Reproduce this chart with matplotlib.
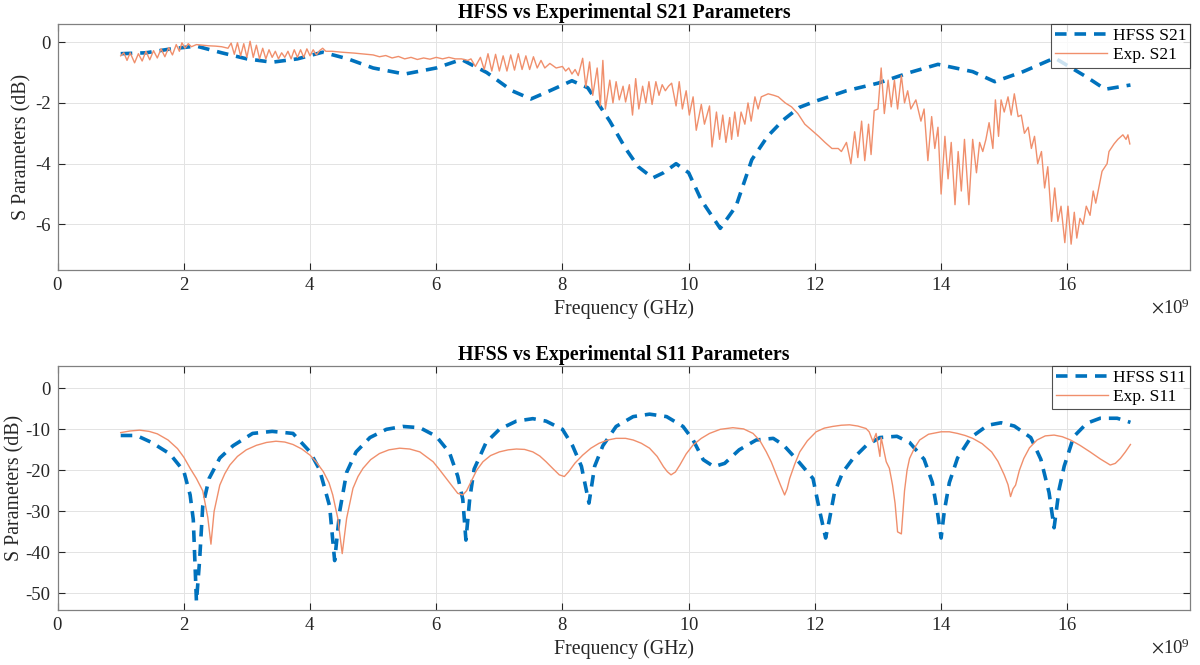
import numpy as np
import matplotlib
matplotlib.use("Agg")
import matplotlib.pyplot as plt
from matplotlib.ticker import ScalarFormatter


# HFSS S21 (GHz, dB)
hfss_s21_f = [1.0, 1.4, 1.8, 2.2, 2.6, 3.0, 3.4, 3.8, 4.2, 4.6, 5.0, 5.5, 6.0,
              6.4, 6.8, 7.2, 7.5, 7.8, 8.15, 8.4, 8.75, 9.0, 9.2, 9.43, 9.6,
              9.8, 10.0, 10.2, 10.5, 10.75, 11.0, 11.25, 11.5, 11.75, 12.0,
              12.5, 13.0, 13.5, 13.95, 14.5, 14.85, 15.3, 15.8, 16.3, 16.6, 17.0]
hfss_s21_db = [-0.38, -0.35, -0.22, -0.13, -0.35, -0.55, -0.66, -0.55, -0.33,
               -0.55, -0.85, -1.05, -0.85, -0.57, -1.0, -1.6, -1.87, -1.6,
               -1.27, -1.5, -2.6, -3.5, -4.1, -4.47, -4.3, -4.0, -4.3, -5.2,
               -6.13, -5.4, -3.87, -3.1, -2.56, -2.15, -1.95, -1.6, -1.35,
               -1.0, -0.73, -0.97, -1.3, -0.97, -0.52, -1.14, -1.55, -1.41]

# Experimental S21, (GHz, dB) pairs
exp_s21 = [
    (1.00, -0.45), (1.05, -0.35), (1.10, -0.60), (1.15, -0.35), (1.22, -0.68),
    (1.28, -0.38), (1.34, -0.62), (1.40, -0.30), (1.46, -0.58), (1.52, -0.28),
    (1.58, -0.52), (1.64, -0.22), (1.70, -0.48), (1.76, -0.18), (1.82, -0.42),
    (1.88, -0.08), (1.93, -0.30), (1.97, -0.02), (2.02, -0.20), (2.07, -0.05),
    (2.12, -0.15), (2.20, -0.08), (2.30, -0.10), (2.40, -0.12), (2.50, -0.13),
    (2.60, -0.15), (2.70, -0.20),
    (2.75, -0.03), (2.80, -0.40), (2.85, -0.02), (2.90, -0.45), (2.95, -0.05),
    (3.00, -0.50), (3.05, 0.03), (3.10, -0.50), (3.15, -0.10), (3.20, -0.55),
    (3.25, -0.20), (3.30, -0.55), (3.35, -0.25), (3.40, -0.50), (3.45, -0.30),
    (3.50, -0.55), (3.55, -0.35), (3.60, -0.50), (3.65, -0.30), (3.70, -0.55),
    (3.75, -0.25), (3.80, -0.50), (3.85, -0.25), (3.90, -0.50), (3.95, -0.22),
    (4.00, -0.45), (4.05, -0.25), (4.10, -0.42), (4.15, -0.28), (4.20, -0.20),
    (4.25, -0.30), (4.35, -0.30), (4.50, -0.33), (4.70, -0.36), (4.90, -0.40),
    (5.00, -0.42), (5.10, -0.48), (5.20, -0.44), (5.30, -0.52), (5.40, -0.47),
    (5.50, -0.55), (5.60, -0.50), (5.70, -0.57), (5.80, -0.52), (5.90, -0.56),
    (6.00, -0.50), (6.10, -0.55), (6.20, -0.50), (6.30, -0.55), (6.40, -0.55),
    (6.50, -0.60),
    (6.55, -0.55), (6.62, -0.80), (6.70, -0.50), (6.76, -0.90), (6.82, -0.38),
    (6.88, -0.95), (6.94, -0.40), (7.00, -0.95), (7.06, -0.45), (7.12, -0.95),
    (7.18, -0.42), (7.24, -0.92), (7.30, -0.38), (7.36, -0.90), (7.42, -0.45),
    (7.48, -0.90), (7.54, -0.48), (7.60, -0.85), (7.66, -0.60), (7.72, -0.85),
    (7.80, -0.70), (7.90, -0.85), (8.00, -0.80), (8.05, -0.95), (8.10, -0.85),
    (8.15, -1.05), (8.20, -0.90), (8.25, -1.10),
    (8.32, -0.53), (8.37, -1.47), (8.43, -0.65), (8.48, -1.75), (8.55, -0.85),
    (8.60, -2.10), (8.64, -0.60), (8.68, -2.20), (8.75, -1.25), (8.80, -2.00),
    (8.85, -1.30), (8.90, -1.90), (8.96, -1.45), (9.00, -1.97), (9.06, -1.40),
    (9.11, -2.40), (9.16, -1.20), (9.21, -2.20), (9.27, -1.45), (9.32, -2.00),
    (9.37, -1.30), (9.42, -2.05), (9.48, -1.30), (9.53, -1.75), (9.58, -1.40),
    (9.63, -1.60), (9.68, -1.45), (9.73, -1.35), (9.80, -2.10), (9.85, -1.30),
    (9.90, -2.20), (9.96, -1.60), (10.01, -2.40), (10.07, -1.80),
    (10.12, -2.90), (10.20, -2.05), (10.25, -2.70), (10.33, -2.10),
    (10.37, -3.45), (10.44, -2.30), (10.49, -3.20), (10.54, -2.40),
    (10.59, -3.30), (10.65, -2.48), (10.68, -3.20), (10.73, -2.30),
    (10.78, -3.10), (10.83, -2.30), (10.89, -2.70), (10.94, -2.00),
    (10.99, -2.60), (11.05, -1.80), (11.10, -2.20), (11.15, -1.80),
    (11.26, -1.70), (11.35, -1.75), (11.42, -1.80), (11.53, -2.00),
    (11.63, -2.13), (11.73, -2.35), (11.84, -2.70), (11.95, -2.90),
    (12.06, -3.10), (12.16, -3.30), (12.27, -3.50), (12.37, -3.50),
    (12.42, -3.60), (12.50, -3.30), (12.57, -4.00), (12.63, -2.95),
    (12.68, -3.80), (12.74, -2.60), (12.79, -3.90), (12.85, -2.70),
    (12.89, -3.70), (12.94, -2.25), (13.00, -2.20), (13.05, -0.85),
    (13.10, -2.35), (13.16, -1.25), (13.21, -2.13), (13.26, -1.25),
    (13.31, -2.20), (13.37, -1.10), (13.42, -2.00), (13.47, -1.60),
    (13.52, -2.20), (13.60, -1.90), (13.68, -2.60), (13.73, -2.20),
    (13.79, -3.90), (13.85, -2.45), (13.90, -3.50), (13.95, -2.80),
    (14.00, -5.00), (14.06, -3.10), (14.11, -4.50), (14.16, -3.30),
    (14.22, -5.35), (14.27, -3.60), (14.32, -4.90), (14.37, -3.20),
    (14.44, -5.35), (14.50, -3.20), (14.56, -4.30), (14.61, -3.30),
    (14.66, -3.60), (14.71, -3.20), (14.76, -2.65), (14.82, -3.50),
    (14.86, -1.90), (14.91, -3.10), (14.95, -1.90), (15.00, -2.30),
    (15.06, -1.80), (15.11, -2.40), (15.16, -1.70), (15.22, -2.45),
    (15.27, -2.40), (15.32, -3.00), (15.38, -2.80), (15.43, -3.50),
    (15.48, -3.10), (15.53, -4.00), (15.59, -3.60), (15.64, -4.80),
    (15.69, -4.10), (15.75, -5.90), (15.80, -4.80), (15.85, -5.90),
    (15.90, -5.40), (15.96, -6.60), (16.01, -5.40), (16.06, -6.65),
    (16.11, -5.60), (16.15, -6.45), (16.20, -5.80), (16.25, -6.00),
    (16.30, -5.40), (16.36, -5.70), (16.41, -4.90), (16.45, -5.30),
    (16.55, -4.25), (16.63, -4.00), (16.66, -3.60), (16.74, -3.35),
    (16.80, -3.20), (16.88, -3.05), (16.93, -3.20), (16.96, -3.05),
    (16.99, -3.35),
]

# HFSS S11 (GHz, dB)
hfss_s11_f = [1.0, 1.25, 1.49, 1.78, 2.0, 2.1, 2.15, 2.2, 2.25, 2.3, 2.4, 2.57,
              2.78, 3.09, 3.4, 3.73, 4.0, 4.15, 4.31, 4.39, 4.47, 4.58, 4.73,
              4.95, 5.21, 5.47, 5.74, 6.0, 6.21, 6.34, 6.42, 6.47, 6.53, 6.6,
              6.79, 7.0, 7.27, 7.53, 7.74, 8.0, 8.16, 8.3, 8.42, 8.51, 8.64,
              8.85, 9.12, 9.38, 9.65, 9.91, 10.07, 10.23, 10.4, 10.57, 10.8,
              11.07, 11.34, 11.5, 11.72, 11.97, 12.07, 12.17, 12.23, 12.31,
              12.44, 12.6, 12.81, 13.03, 13.3, 13.5, 13.73, 13.86, 13.94, 14.0,
              14.05, 14.13, 14.26, 14.47, 14.74, 14.95, 15.16, 15.42, 15.58,
              15.71, 15.79, 15.87, 15.95, 16.1, 16.31, 16.52, 16.79, 17.0]
hfss_s11_db = [-11.5, -11.5, -13.2, -16.0, -20.2, -26.0, -32.0, -52.0, -42.0,
               -28.7, -22.0, -17.0, -14.0, -11.0, -10.5, -11.0, -15.5, -19.8,
               -28.7, -42.0, -30.0, -20.5, -15.5, -12.0, -10.0, -9.3, -9.6,
               -11.7, -15.7, -21.4, -27.0, -37.0, -27.0, -19.7, -13.2, -10.0,
               -8.0, -7.4, -8.0, -10.0, -14.0, -19.0, -28.0, -19.0, -14.0,
               -9.3, -6.9, -6.3, -6.9, -9.3, -12.6, -17.4, -19.1, -18.3, -15.0,
               -12.6, -12.2, -13.8, -17.5, -22.0, -29.5, -36.5, -32.0, -25.4,
               -20.5, -17.2, -14.0, -12.0, -11.7, -13.2, -17.3, -22.9, -30.0,
               -36.5, -30.0, -23.0, -17.0, -12.0, -9.0, -8.4, -9.2, -12.0,
               -17.3, -25.4, -34.0, -24.6, -19.0, -11.8, -8.5, -7.3, -7.3, -8.3]

# Experimental S11 (GHz, dB)
exp_s11_f = [1.0, 1.15, 1.3, 1.45, 1.58, 1.75, 1.9, 2.0, 2.1, 2.2, 2.3, 2.38,
             2.43, 2.48, 2.57, 2.65, 2.73, 2.85, 2.99, 3.15, 3.31, 3.46, 3.6,
             3.73, 3.87, 4.0, 4.1, 4.21, 4.3, 4.36, 4.44, 4.51, 4.58, 4.68,
             4.76, 4.84, 4.96, 5.1, 5.25, 5.42, 5.58, 5.74, 5.95, 6.05, 6.16,
             6.26, 6.34, 6.42, 6.48, 6.55, 6.64, 6.74, 6.86, 7.0, 7.14, 7.27,
             7.4, 7.53, 7.64, 7.74, 7.85, 7.95, 8.03, 8.1, 8.2, 8.32, 8.45,
             8.58, 8.72, 8.85, 9.0, 9.12, 9.25, 9.38, 9.5, 9.6, 9.66, 9.72,
             9.79, 9.86, 9.96, 10.07, 10.2, 10.33, 10.5, 10.7, 10.87, 11.02,
             11.13, 11.23, 11.31, 11.39, 11.46, 11.52, 11.56, 11.6, 11.68,
             11.76, 11.88, 12.02, 12.15, 12.28, 12.42, 12.55, 12.68, 12.81,
             12.86, 12.92, 12.97, 13.03, 13.05, 13.13, 13.18, 13.23, 13.27,
             13.31, 13.37, 13.42, 13.46, 13.5, 13.58, 13.66, 13.8, 14.0, 14.13,
             14.26, 14.38, 14.5, 14.65, 14.8, 14.9, 15.0, 15.06, 15.1, 15.14,
             15.18, 15.24, 15.31, 15.4, 15.52, 15.65, 15.79, 15.92, 16.05,
             16.2, 16.36, 16.52, 16.68, 16.76, 16.84, 16.92, 17.0]
exp_s11_db = [-10.8, -10.4, -10.2, -10.5, -11.1, -12.6, -14.7, -16.8, -19.5,
              -22.0, -25.0, -31.5, -38.0, -30.0, -23.6, -20.8, -18.7, -16.6,
              -15.0, -13.9, -13.2, -12.9, -13.1, -13.7, -14.8, -16.3, -18.0,
              -20.3, -23.0, -26.0, -31.7, -40.3, -31.7, -24.4, -21.5, -19.5,
              -17.4, -15.9, -15.0, -14.6, -14.8, -15.5, -17.9, -19.8, -22.0,
              -24.0, -25.6, -26.0, -25.0, -22.8, -20.0, -17.9, -16.4, -15.5,
              -15.0, -14.8, -14.9, -15.5, -16.5, -17.9, -19.6, -21.1, -21.5,
              -20.3, -18.2, -16.3, -14.6, -13.4, -12.6, -12.2, -12.2, -12.6,
              -13.4, -14.6, -16.6, -19.1, -20.3, -21.1, -20.4, -18.7, -16.0,
              -13.8, -12.2, -11.0, -10.0, -9.6, -9.9, -11.0, -12.8, -15.5,
              -18.0, -21.1, -23.8, -26.0, -24.5, -22.0, -18.5, -15.5, -12.8,
              -10.6, -9.7, -9.3, -9.0, -8.9, -9.2, -9.8, -10.6, -13.0, -11.0,
              -16.6, -12.0, -17.9, -19.5, -23.6, -28.0, -35.0, -35.5, -25.0,
              -20.0, -17.1, -14.5, -12.6, -11.2, -10.6, -10.6, -11.0, -11.5,
              -12.2, -13.5, -15.5, -17.8, -21.1, -23.5, -26.4, -24.5, -23.6,
              -20.0, -17.1, -14.5, -12.6, -11.6, -11.4, -11.8, -12.6, -13.9,
              -15.5, -17.2, -18.7, -18.3, -17.1, -15.5, -13.7]

BLUE = "#0072BD"
ORANGE = "#F08F6C"

plt.rcParams["font.family"] = ["Liberation Serif", "DejaVu Serif"]
plt.rcParams["mathtext.fontset"] = "stix"
plt.rcParams["axes.unicode_minus"] = False

fig = plt.figure(figsize=(12, 6.65), dpi=100)
ax1 = fig.add_axes([0.048, 0.594, 0.944, 0.370])
ax2 = fig.add_axes([0.048, 0.083, 0.944, 0.367])


def style_axis(ax, title, ylim, yticks, ylab_x):
    ax.set_xlim(0, 17.95e9)
    ax.set_ylim(*ylim)
    ax.set_xticks(np.arange(0, 17e9, 2e9))
    ax.set_yticks(yticks)
    fmt = ScalarFormatter(useMathText=True)
    fmt.set_powerlimits((9, 9))
    ax.xaxis.set_major_formatter(fmt)
    ax.xaxis.get_offset_text().set_fontsize(13.5)
    ax.xaxis.get_offset_text().set_color("#262626")
    ax.grid(True, color="#e3e3e3", linewidth=0.7)
    ax.set_axisbelow(True)
    ax.tick_params(direction="in", length=5, labelsize=13.5, colors="#262626",
                   top=True, right=True, pad=5)
    for s in ax.spines.values():
        s.set_color("#808080")
        s.set_linewidth(0.9)
    ax.set_title(title, fontsize=14.3, fontweight="bold", pad=4)
    ax.set_xlabel("Frequency (GHz)", fontsize=14.3, labelpad=4, color="#262626")
    ax.set_ylabel("S Parameters (dB)", fontsize=14.3, color="#262626")
    ax.yaxis.set_label_coords(ylab_x, 0.5)


exp_s21_f = np.array([p[0] for p in exp_s21])
exp_s21_db = np.array([p[1] for p in exp_s21])

ax1.plot(np.array(hfss_s21_f) * 1e9, hfss_s21_db, "--", color=BLUE, lw=2.6,
         dashes=(3.2, 2.2), label="HFSS S21")
ax1.plot(exp_s21_f * 1e9, exp_s21_db, "-", color=ORANGE, lw=1.0,
         label="Exp. S21")
style_axis(ax1, "HFSS vs Experimental S21 Parameters", (-7.5, 0.6),
           [-6, -4, -2, 0], -0.023)

ax2.plot(np.array(hfss_s11_f) * 1e9, hfss_s11_db, "--", color=BLUE, lw=2.6,
         dashes=(3.2, 2.2), label="HFSS S11")
ax2.plot(np.array(exp_s11_f) * 1e9, exp_s11_db, "-", color=ORANGE, lw=1.0,
         label="Exp. S11")
style_axis(ax2, "HFSS vs Experimental S11 Parameters", (-54, 5.5),
           [-50, -40, -30, -20, -10, 0], -0.029)

for ax in (ax1, ax2):
    leg = ax.legend(loc="upper right", fontsize=12.5, frameon=True,
                    fancybox=False, borderaxespad=0.0, handlelength=3.0,
                    borderpad=0.25, labelspacing=0.15, handletextpad=0.3)
    leg.get_frame().set_edgecolor("#262626")
    leg.get_frame().set_linewidth(0.8)

fig.savefig("out.png", dpi=100)
